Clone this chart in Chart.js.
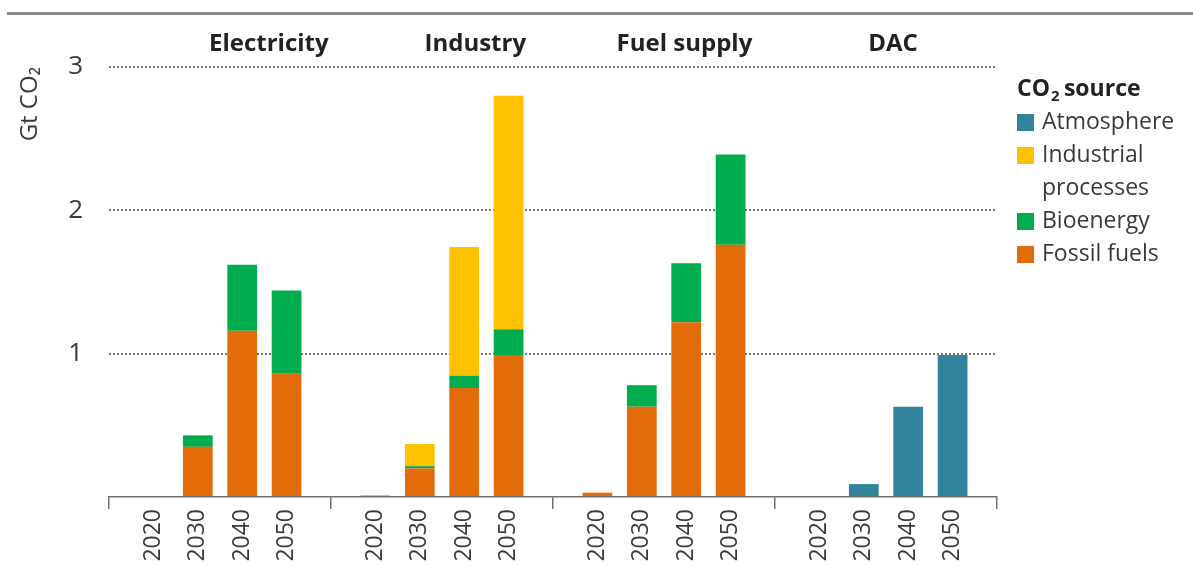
<!DOCTYPE html>
<html>
<head>
<meta charset="utf-8">
<script src="https://cdn.jsdelivr.net/npm/chart.js@4"></script>
<style>
  body { margin: 0; background: #fff; }
  #wrap { position: relative; width: 1193px; height: 565px; overflow: hidden; }
  #topRule { position: absolute; left: 7px; top: 12px; width: 1186px; height: 3px; background: #8c8c8c; }
</style>
</head>
<body>
<div id="wrap">
  <div id="topRule"></div>
  <canvas id="graph"></canvas>
</div>
<script>
// Datos (Gt CO2), un array por sector y fuente
const sectors = ['Electricity', 'Industry', 'Fuel supply', 'DAC'];
const years = ['2020', '2030', '2040', '2050'];
const yTicks = [1, 2, 3];

const fossilFuels = [
  [0, 0.35, 1.16, 0.86],   // Electricity
  [0, 0.20, 0.76, 0.99],   // Industry
  [0.03, 0.63, 1.22, 1.76],// Fuel supply
  [0, 0, 0, 0]             // DAC
];
const bioenergy = [
  [0, 0.08, 0.46, 0.58],
  [0.01, 0.015, 0.085, 0.18],
  [0, 0.15, 0.41, 0.63],
  [0, 0, 0, 0]
];
const industrialProcesses = [
  [0, 0, 0, 0],
  [0, 0.155, 0.90, 1.63],
  [0, 0, 0, 0],
  [0, 0, 0, 0]
];
const atmosphere = [
  [0, 0, 0, 0],
  [0, 0, 0, 0],
  [0, 0, 0, 0],
  [0, 0.09, 0.63, 0.99]
];

const FONT = '"Open Sans", "DejaVu Sans", sans-serif';
const TEXT = '#3a3a3a';

// Categorias: hueco vacio entre grupos (ahi van las marcas de separacion)
const labels = [''];
sectors.forEach(() => { years.forEach(y => labels.push(y)); labels.push(''); });

function flatten(bySector) {
  const out = [null];
  bySector.forEach(vals => { vals.forEach(v => out.push(v)); out.push(null); });
  return out;
}

const datasets = [
  { label: 'Fossil fuels', data: flatten(fossilFuels), backgroundColor: '#E36C0A' },
  { label: 'Bioenergy', data: flatten(bioenergy), backgroundColor: '#00AD4E' },
  { label: 'Industrial processes', data: flatten(industrialProcesses), backgroundColor: '#FFC000' },
  { label: 'Atmosphere', data: flatten(atmosphere), backgroundColor: '#31849B' }
];
datasets.forEach(d => { d.barPercentage = 0.67; d.categoryPercentage = 1; d.borderWidth = 0; });

// Titulos de los sectores arriba del area de graficos
const sectorTitles = {
  id: 'sectorTitles',
  afterDraw(chart) {
    const ctx = chart.ctx, x = chart.scales.x;
    const pos = [3.6, 8.25, 12.96, 17.66];
    ctx.save();
    ctx.font = 'bold 24px ' + FONT;
    ctx.fillStyle = '#222';
    ctx.textAlign = 'center';
    ctx.textBaseline = 'middle';
    sectors.forEach((s, i) => ctx.fillText(s, x.getPixelForValue(pos[i]), 44));
    ctx.restore();
  }
};

// Leyenda a la derecha, en orden inverso al apilado
const sideLegend = {
  id: 'sideLegend',
  afterDraw(chart) {
    const ctx = chart.ctx;
    const left = chart.chartArea.right + 20;
    ctx.save();
    ctx.textBaseline = 'middle';
    ctx.fillStyle = '#222';
    ctx.font = 'bold 23px ' + FONT;
    ctx.fillText('CO', left, 89);
    const w = ctx.measureText('CO').width;
    ctx.font = 'bold 15px ' + FONT;
    ctx.fillText('2', left + w + 1, 97);
    ctx.font = 'bold 23px ' + FONT;
    ctx.fillText(' source', left + w + 8, 89);

    ctx.font = '23px ' + FONT;
    let y = 122;
    chart.data.datasets.slice().reverse().forEach(d => {
      ctx.fillStyle = d.backgroundColor;
      ctx.fillRect(left, y - 8, 17, 17);
      ctx.fillStyle = TEXT;
      const words = d.label === 'Industrial processes' ? ['Industrial', 'processes'] : [d.label];
      words.forEach(t => { ctx.fillText(t, left + 25, y); y += 33; });
    });
    ctx.restore();
  }
};

new Chart(document.getElementById('graph'), {
  type: 'bar',
  data: { labels, datasets },
  plugins: [sectorTitles, sideLegend],
  options: {
    responsive: true,
    maintainAspectRatio: false,
    animation: false,
    layout: { padding: { top: 67, right: 196, left: 0, bottom: 0 } },
    plugins: { legend: { display: false }, tooltip: { enabled: false } },
    scales: {
      x: {
        stacked: true,
        offset: false,
        afterFit: s => { s.height = 68; },
        border: { display: true, color: '#6e6e6e', width: 1.5 },
        grid: {
          offset: false,
          drawOnChartArea: false,
          tickLength: 12,
          lineWidth: 1.5,
          color: c => (labels[c.index] === '' ? '#6e6e6e' : 'rgba(0,0,0,0)')
        },
        ticks: {
          autoSkip: false,
          minRotation: 90,
          maxRotation: 90,
          padding: 0,
          color: TEXT,
          font: { family: FONT, size: 23 }
        }
      },
      y: {
        stacked: true,
        min: 0,
        max: 3,
        afterFit: s => { s.width = 109; },
        afterBuildTicks: s => { s.ticks = [0].concat(yTicks).map(v => ({ value: v })); },
        border: { display: false, dash: [2, 2] },
        grid: {
          drawTicks: false,
          lineWidth: 2,
          color: c => (c.tick.value === 0 ? 'rgba(0,0,0,0)' : '#777')
        },
        ticks: {
          padding: 26,
          color: TEXT,
          font: { family: FONT, size: 26 },
          callback: v => (v === 0 ? '' : v)
        },
        title: {
          display: true,
          text: 'Gt CO₂',
          align: 'end',
          color: TEXT,
          padding: { top: 16, bottom: 0 },
          font: { family: FONT, size: 24 }
        }
      }
    }
  }
});
</script>
</body>
</html>
